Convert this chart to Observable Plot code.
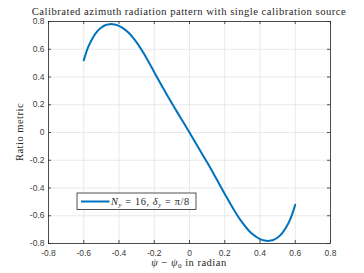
<!DOCTYPE html>
<html><head><meta charset="utf-8">
<script src="https://cdn.jsdelivr.net/npm/d3@7"></script>
<script src="https://cdn.jsdelivr.net/npm/@observablehq/plot@0.6"></script>
<style>body{margin:0;background:#fff} svg{display:block}</style>
</head><body><div id="chart"></div>
<script>
const titleText = "Calibrated azimuth radiation pattern with single calibration source";
const yLabelText = "Ratio metric";
const psi   = [-0.6, -0.575, -0.55, -0.525, -0.5, -0.475, -0.45, -0.425, -0.4, -0.35, -0.3, -0.25, -0.2, -0.15, -0.1, -0.05, 0,
               0.05, 0.1, 0.15, 0.2, 0.25, 0.3, 0.35, 0.4, 0.425, 0.45, 0.475, 0.5, 0.525, 0.55, 0.575, 0.6];
const ratio = [0.52, 0.615, 0.68, 0.727, 0.757, 0.775, 0.781, 0.778, 0.768, 0.725, 0.65, 0.55, 0.435, 0.32, 0.21, 0.105, 0.0,
               -0.108, -0.215, -0.328, -0.443, -0.553, -0.65, -0.725, -0.768, -0.778, -0.781, -0.775, -0.757, -0.727, -0.68, -0.615, -0.52];
const xTicks = [-0.8, -0.6, -0.4, -0.2, 0, 0.2, 0.4, 0.6, 0.8];
const yTicks = [-0.8, -0.6, -0.4, -0.2, 0, 0.2, 0.4, 0.6, 0.8];

const data = psi.map((x, i) => ({x, y: ratio[i]}));
const W = 364, H = 273, mL = 48, mR = 34, mT = 21, mB = 30;
const iw = W - mL - mR, ih = H - mT - mB;
const fmt = d => d === 0 ? "0" : d.toFixed(1);
const axisCol = "#262626";
const blue = "#0072BD";

const plot = Plot.plot({
  width: W, height: H,
  marginLeft: mL, marginRight: mR, marginTop: mT, marginBottom: mB,
  style: {fontFamily: "'Liberation Sans', Arial, sans-serif", fontSize: "8.5px", color: "#404040", background: "#fff"},
  x: {domain: [-0.8, 0.8]},
  y: {domain: [-0.8, 0.8]},
  marks: [
    Plot.gridX(xTicks, {stroke: "#e3e3e3", strokeOpacity: 1, strokeWidth: 0.8}),
    Plot.gridY(yTicks, {stroke: "#e3e3e3", strokeOpacity: 1, strokeWidth: 0.8}),
    Plot.line(data, {x: "x", y: "y", stroke: blue, strokeWidth: 2, curve: "catmull-rom"}),
    Plot.frame({stroke: axisCol, strokeWidth: 0.8}),
    Plot.tickX(xTicks, {x: d => d, insetTop: ih - 3, stroke: axisCol, strokeWidth: 0.8}),
    Plot.tickX(xTicks, {x: d => d, insetBottom: ih - 3, stroke: axisCol, strokeWidth: 0.8}),
    Plot.tickY(yTicks, {y: d => d, insetRight: iw - 3, stroke: axisCol, strokeWidth: 0.8}),
    Plot.tickY(yTicks, {y: d => d, insetLeft: iw - 3, stroke: axisCol, strokeWidth: 0.8}),
    Plot.axisX(xTicks, {tickSize: 0, tickPadding: 6, tickFormat: fmt, label: null}),
    Plot.axisY(yTicks, {tickSize: 0, tickPadding: 4, tickFormat: fmt, label: null})
  ]
});
document.getElementById("chart").append(plot);

const svg = d3.select(plot);
const serif = "'Liberation Serif', 'Times New Roman', serif";
const cx = mL + iw / 2;

svg.append("text").attr("x", cx).attr("y", 14.5).attr("text-anchor", "middle")
  .attr("font-family", serif).attr("font-size", "10.6px").attr("letter-spacing", "0.5px")
  .attr("fill", "#262626").text(titleText);

const xl = svg.append("text").attr("x", cx).attr("y", 266).attr("text-anchor", "middle")
  .attr("font-family", serif).attr("font-size", "10.5px").attr("letter-spacing", "0.5px").attr("fill", "#262626");
xl.append("tspan").attr("font-style", "italic").text("ψ");
xl.append("tspan").text(" − ");
xl.append("tspan").attr("font-style", "italic").text("ψ");
xl.append("tspan").attr("font-size", "7px").attr("dy", 2).text("0");
xl.append("tspan").attr("dy", -2).text(" in radian");

svg.append("text").attr("transform", `translate(22.5,${mT + ih / 2}) rotate(-90)`).attr("text-anchor", "middle")
  .attr("font-family", serif).attr("font-size", "10.5px").attr("letter-spacing", "0.5px")
  .attr("fill", "#262626").text(yLabelText);

// legend
const lg = svg.append("g").attr("transform", `translate(${mL + 29},${mT + ih - 50})`);
lg.append("rect").attr("width", 119).attr("height", 16.5).attr("fill", "#fff").attr("stroke", axisCol).attr("stroke-width", 0.8);
lg.append("line").attr("x1", 4).attr("x2", 32.5).attr("y1", 8.5).attr("y2", 8.5).attr("stroke", blue).attr("stroke-width", 2);
const lt = lg.append("text").attr("x", 34).attr("y", 11.8).attr("text-anchor", "start")
  .attr("font-family", serif).attr("font-size", "10.3px").attr("letter-spacing", "0.6px").attr("fill", "#262626");
lt.append("tspan").attr("font-style", "italic").text("N");
lt.append("tspan").attr("font-style", "italic").attr("font-size", "7px").attr("dy", 1.8).text("y");
lt.append("tspan").attr("dy", -1.8).text(" = 16, ");
lt.append("tspan").attr("font-style", "italic").text("δ");
lt.append("tspan").attr("font-style", "italic").attr("font-size", "7px").attr("dy", 1.8).text("y");
lt.append("tspan").attr("dy", -1.8).text(" = π/8");
</script>
</body></html>
